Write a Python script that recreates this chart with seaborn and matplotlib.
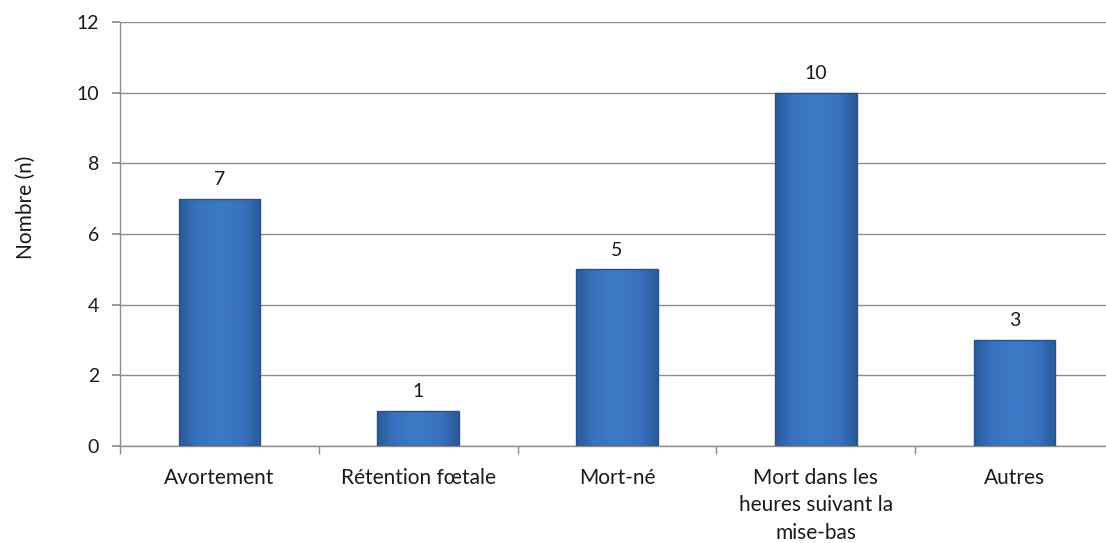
import numpy as np
import pandas as pd
import matplotlib
matplotlib.use("Agg")
import matplotlib.pyplot as plt
import seaborn as sns
from matplotlib.colors import LinearSegmentedColormap

categories = ["Avortement", "Rétention fœtale", "Mort-né",
              "Mort dans les\nheures suivant la\nmise-bas", "Autres"]
values = [7, 1, 5, 10, 3]
y_ticks = [0, 2, 4, 6, 8, 10, 12]

df = pd.DataFrame({"cat": categories, "n": values})

sns.set_theme(style="white")
plt.rcParams["font.family"] = ["Lato", "DejaVu Sans"]

fig = plt.figure(figsize=(11.06, 5.43), dpi=100)
ax = fig.add_axes([120 / 1106, 1 - 446 / 543, 994 / 1106, 424 / 543])

sns.barplot(data=df, x="cat", y="n", color="#3a74c2", width=0.41,
            saturation=1, ax=ax, zorder=3)

# fake the Excel bevel with a horizontal gradient clipped to each bar
cmap = LinearSegmentedColormap.from_list(
    "bev", ["#2a5a98", "#3870bc", "#3c77c4", "#3c77c4", "#3870bc", "#2a5a98"])
grad = np.linspace(0, 1, 256).reshape(1, -1)
for p in ax.patches:
    x0, y0 = p.get_x(), p.get_y()
    w, h = p.get_width(), p.get_height()
    im = ax.imshow(grad, extent=[x0, x0 + w, y0, y0 + h], cmap=cmap,
                   aspect="auto", zorder=3.5, interpolation="bicubic")
    im.set_clip_path(p)
    p.set_edgecolor("#27528c")
    p.set_linewidth(1.0)
    p.set_zorder(4)
    p.set_facecolor("none")
    ax.text(x0 + w / 2, y0 + h + 0.3, f"{int(h)}", ha="center", va="bottom",
            fontsize=14, color="#1a1a1a", zorder=5)

ax.set_xlim(-0.5, 4.5)
ax.set_ylim(0, 12)
ax.set_yticks(y_ticks)
ax.yaxis.grid(True, color="#8c8c8c", linewidth=1.0, zorder=0)
ax.set_axisbelow(True)

for s in ["top", "right"]:
    ax.spines[s].set_visible(False)
for s in ["left", "bottom"]:
    ax.spines[s].set_color("#8c8c8c")
    ax.spines[s].set_linewidth(1.0)

ax.tick_params(axis="y", length=6, color="#8c8c8c", direction="out",
               labelsize=14, labelcolor="#1a1a1a", pad=9, left=True)
ax.set_xticks(range(len(categories)))
ax.set_xticklabels(categories, fontsize=15, color="#1a1a1a", linespacing=1.45)
ax.tick_params(axis="x", length=0, pad=16)
ax.set_xticks(np.arange(-0.5, 5.0, 1.0), minor=True)
ax.tick_params(axis="x", which="minor", length=6, color="#8c8c8c",
               direction="out", bottom=True)

ax.set_xlabel("")
ax.set_ylabel("Nombre (n)", fontsize=15, color="#1a1a1a")
ax.yaxis.set_label_coords(-0.085, 0.564)

fig.savefig("out.png", dpi=100)
